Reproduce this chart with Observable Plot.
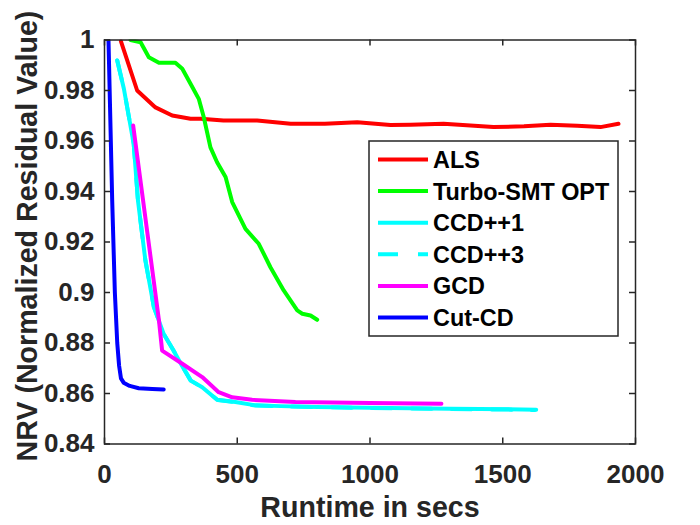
<!DOCTYPE html>
<html>
<head>
<meta charset="utf-8">
<script src="https://cdn.jsdelivr.net/npm/d3@7"></script>
<script src="https://cdn.jsdelivr.net/npm/@observablehq/plot@0.6"></script>
<style>
  html, body { margin: 0; padding: 0; background: #fff; }
  #wrap { position: relative; width: 700px; height: 525px; }
  #legend { position: absolute; left: 368px; top: 140px; }
</style>
</head>
<body>
<div id="wrap"></div>
<script>
// ---- data ----
const xTicks = [0, 500, 1000, 1500, 2000];
const yTicks = [0.84, 0.86, 0.88, 0.9, 0.92, 0.94, 0.96, 0.98, 1];
const xLabel = "Runtime in secs";
const yLabel = "NRV (Normalized Residual Value)";

const seriesNames = ["ALS", "Turbo-SMT OPT", "CCD++1", "CCD++3", "GCD", "Cut-CD"];
const seriesColors = ["#ff0000", "#00ff00", "#00ffff", "#00ffff", "#ff00ff", "#0000ff"];
const seriesDash = [null, null, null, "20,20", null, null];

const alsX = [62, 123, 192, 255, 324, 362, 448, 575, 701, 830, 952, 1077, 1153, 1277, 1465, 1580, 1680, 1780, 1868, 1936];
const alsY = [0.9995, 0.980, 0.9733, 0.9701, 0.9688, 0.9688, 0.9681, 0.9681, 0.9668, 0.9668, 0.9674, 0.9663, 0.9664, 0.9668, 0.9655, 0.9658, 0.9664, 0.9660, 0.9655, 0.9668];

const turboX = [98, 136, 167, 205, 267, 293, 324, 355, 374, 399, 424, 456, 481, 531, 581, 625, 675, 726, 745, 776, 801];
const turboY = [1.0, 0.9991, 0.9932, 0.9910, 0.9910, 0.9886, 0.9827, 0.9767, 0.9694, 0.9575, 0.9516, 0.9457, 0.9358, 0.9252, 0.9193, 0.9100, 0.9008, 0.8929, 0.8916, 0.8909, 0.8892];

const ccd1X = [48, 73, 110, 126, 154, 186, 223, 260, 293, 324, 368, 424, 493, 569, 663, 800, 1000, 1300, 1626];
const ccd1Y = [0.9919, 0.9807, 0.9589, 0.9364, 0.9127, 0.8942, 0.8836, 0.8770, 0.8708, 0.8652, 0.8625, 0.8575, 0.8566, 0.8553, 0.8550, 0.8547, 0.8544, 0.8540, 0.8536];

const ccd3X = [48, 73, 110, 126, 154, 186, 223, 260, 293, 326, 370, 426, 495, 570, 663, 800, 1000, 1300, 1620];
const ccd3Y = [0.9919, 0.9807, 0.9589, 0.9364, 0.9127, 0.8942, 0.8836, 0.8770, 0.8708, 0.8650, 0.8623, 0.8574, 0.8565, 0.8552, 0.8549, 0.8546, 0.8543, 0.8539, 0.8535];

const gcdX = [108, 205, 217, 293, 368, 430, 481, 556, 719, 1000, 1269];
const gcdY = [0.9661, 0.889, 0.877, 0.8718, 0.8665, 0.8605, 0.8585, 0.8575, 0.8566, 0.8562, 0.8559];

const cutX = [15, 29, 39, 48, 55, 62, 72, 95, 129, 180, 223];
const cutY = [1.0, 0.9364, 0.9, 0.88, 0.871, 0.866, 0.8643, 0.8630, 0.8621, 0.8618, 0.8616];

const seriesX = [alsX, turboX, ccd1X, ccd3X, gcdX, cutX];
const seriesY = [alsY, turboY, ccd1Y, ccd3Y, gcdY, cutY];

// ---- layout ----
const W = 700, H = 525;
const mL = 104, mR = 65, mT = 39.5, mB = 81.5;
const plotW = W - mL - mR, plotH = H - mT - mB;
const axisColor = "#262626";
const font = "'Liberation Sans', Arial, Helvetica, sans-serif";

const lineMarks = seriesNames.map((name, i) => {
  const pts = seriesX[i].map((x, j) => ({x, y: seriesY[i][j]}));
  return Plot.line(pts, {
    x: "x", y: "y",
    stroke: seriesColors[i],
    strokeWidth: 4,
    strokeDasharray: seriesDash[i] || undefined,
    strokeLinejoin: "round",
    clip: true
  });
});

const chart = Plot.plot({
  width: W, height: H,
  marginLeft: mL, marginRight: mR, marginTop: mT, marginBottom: mB,
  x: {domain: [0, 2000]},
  y: {domain: [0.84, 1]},
  style: {fontFamily: font, fontWeight: "bold", background: "white", color: axisColor, overflow: "visible"},
  marks: [
    Plot.axisX(xTicks, {tickSize: 0, tickPadding: 21, fontSize: 26, fontWeight: "bold", label: null, tickFormat: d => String(d), fill: axisColor}),
    Plot.axisY(yTicks, {tickSize: 0, tickPadding: 10, fontSize: 26, fontWeight: "bold", label: null, tickFormat: d => String(d), fill: axisColor}),
    ...lineMarks,
    Plot.tickX(xTicks, {x: d => d, insetTop: plotH - 6, stroke: axisColor, strokeWidth: 1.5}),
    Plot.tickX(xTicks, {x: d => d, insetBottom: plotH - 6, stroke: axisColor, strokeWidth: 1.5}),
    Plot.tickY(yTicks, {y: d => d, insetRight: plotW - 6, stroke: axisColor, strokeWidth: 1.5}),
    Plot.tickY(yTicks, {y: d => d, insetLeft: plotW - 6, stroke: axisColor, strokeWidth: 1.5}),
    Plot.frame({stroke: axisColor, strokeWidth: 1.5}),
    Plot.text([xLabel], {text: d => d, frameAnchor: "bottom", textAnchor: "middle", lineAnchor: "middle", dy: 64, fontSize: 28.6, fontWeight: "bold", fill: axisColor}),
    Plot.text([yLabel], {text: d => d, frameAnchor: "left", textAnchor: "middle", lineAnchor: "middle", dx: -77, dy: -6, rotate: -90, fontSize: 28.6, fontWeight: "bold", fill: axisColor})
  ]
});
document.getElementById("wrap").appendChild(chart);

// ---- legend ----
const lgW = 251, lgH = 197;
const lg = d3.select("#wrap").append("svg")
  .attr("id", "legend")
  .attr("width", lgW).attr("height", lgH)
  .style("font-family", font).style("font-weight", "bold");
lg.append("rect").attr("x", 1).attr("y", 1).attr("width", lgW - 2).attr("height", lgH - 2)
  .attr("fill", "white").attr("stroke", axisColor).attr("stroke-width", 1.5);
seriesNames.forEach((name, i) => {
  const cy = 19.5 + i * 31.6;
  lg.append("line").attr("x1", 10).attr("x2", 60).attr("y1", cy).attr("y2", cy)
    .attr("stroke", seriesColors[i]).attr("stroke-width", 4)
    .attr("stroke-dasharray", seriesDash[i] || null);
  lg.append("text").attr("x", 65).attr("y", cy).attr("dy", "0.36em")
    .attr("font-size", 23.4).attr("fill", "#000").text(name);
});
</script>
</body>
</html>
